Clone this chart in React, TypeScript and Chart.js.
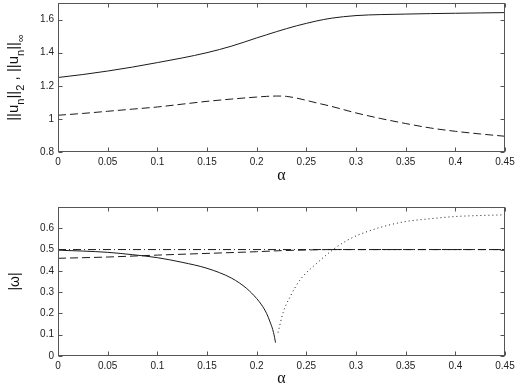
import { useEffect, useRef } from 'react';
import { Chart, registerables } from 'chart.js';

Chart.register(...registerables);
Chart.defaults.font.family = "'Liberation Sans', Arial, sans-serif";

// ---------- data ----------
const xTickValues = [0, 0.05, 0.1, 0.15, 0.2, 0.25, 0.3, 0.35, 0.4, 0.45];
const yTopTickValues = [0.8, 1, 1.2, 1.4, 1.6];
const yBottomTickValues = [0, 0.1, 0.2, 0.3, 0.4, 0.5, 0.6];

// top panel: norms
const alphaNorm = [0, 0.025, 0.05, 0.075, 0.1, 0.125, 0.15, 0.175, 0.2, 0.21, 0.22, 0.23, 0.24, 0.25, 0.26, 0.275, 0.3, 0.325, 0.35, 0.375, 0.4, 0.425, 0.45];
const normSolid = [1.25, 1.268, 1.289, 1.313, 1.34, 1.368, 1.4, 1.44, 1.489, 1.508, 1.527, 1.545, 1.562, 1.577, 1.591, 1.608, 1.624, 1.63, 1.633, 1.636, 1.638, 1.64, 1.642];
const normDashed = [1.022, 1.033, 1.046, 1.059, 1.072, 1.089, 1.106, 1.12, 1.132, 1.136, 1.138, 1.136, 1.126, 1.112, 1.097, 1.076, 1.036, 1.002, 0.972, 0.945, 0.925, 0.909, 0.895];

// bottom panel: |omega|
const alphaOmegaSolid = [0, 0.025, 0.05, 0.075, 0.1, 0.125, 0.15, 0.175, 0.19, 0.2, 0.205, 0.21, 0.2135, 0.217, 0.219];
const omegaSolid = [0.497, 0.493, 0.487, 0.476, 0.462, 0.44, 0.412, 0.365, 0.317, 0.27, 0.24, 0.2, 0.16, 0.11, 0.063];

const alphaOmegaDashed = [0, 0.05, 0.1, 0.15, 0.2, 0.225, 0.25, 0.275, 0.3, 0.35, 0.4, 0.45];
const omegaDashed = [0.459, 0.465, 0.474, 0.482, 0.49, 0.495, 0.498, 0.5, 0.5, 0.5, 0.5, 0.5];

const alphaOmegaDashDot = [0, 0.45];
const omegaDashDot = [0.5, 0.5];

const alphaOmegaDotted = [0.2215, 0.2268, 0.2336, 0.2436, 0.2604, 0.277, 0.2906, 0.302, 0.325, 0.349, 0.375, 0.399, 0.425, 0.45];
const omegaDotted = [0.11, 0.207, 0.278, 0.357, 0.435, 0.5, 0.542, 0.568, 0.605, 0.631, 0.645, 0.655, 0.66, 0.663];

// ---------- styling ----------
const AXIS = '#555';
const LINE = '#1a1a1a';
const TICK_FONT = { size: 10, family: "'Liberation Sans', Arial, sans-serif" };
const TITLE_FONT = { size: 16, family: "'Liberation Serif', 'Times New Roman', serif" };

type Seg = { t: string; sub?: boolean };

const pts = (xs: number[], ys: number[]) => xs.map((x, i) => ({ x, y: ys[i] }));

const framePlugin = {
  id: 'frame',
  afterDatasetsDraw(chart: any) {
    const { ctx, chartArea: a, scales } = chart;
    const l = Math.round(a.left) + 0.5;
    const r = Math.round(a.right) - 0.5;
    const t = Math.round(a.top) + 0.5;
    const b = Math.round(a.bottom) - 0.5;
    ctx.save();
    ctx.strokeStyle = AXIS;
    ctx.lineWidth = 1;
    ctx.strokeRect(l, t, r - l, b - t);
    ctx.beginPath();
    for (const tk of scales.x.ticks) {
      const px = Math.round(scales.x.getPixelForValue(tk.value)) + 0.5;
      ctx.moveTo(px, b); ctx.lineTo(px, b - 4);
      ctx.moveTo(px, t); ctx.lineTo(px, t + 4);
    }
    for (const tk of scales.y.ticks) {
      const py = Math.round(scales.y.getPixelForValue(tk.value)) + 0.5;
      ctx.moveTo(l, py); ctx.lineTo(l + 4, py);
      ctx.moveTo(r, py); ctx.lineTo(r - 4, py);
    }
    ctx.stroke();
    ctx.restore();
  },
};

function labelPlugin(segs: Seg[], baselineX: number, mainSize: number, subSize: number, subShift: number) {
  return {
    id: 'ylabel',
    afterDraw(chart: any) {
      const { ctx, chartArea: a } = chart;
      const main = `${mainSize}px 'Liberation Sans', Arial, sans-serif`;
      const sub = `${subSize}px 'Liberation Sans', Arial, sans-serif`;
      ctx.save();
      let total = 0;
      for (const s of segs) {
        ctx.font = s.sub ? sub : main;
        total += ctx.measureText(s.t).width;
      }
      const cy = (a.top + a.bottom) / 2;
      ctx.translate(baselineX, cy);
      ctx.rotate(-Math.PI / 2);
      ctx.fillStyle = '#111';
      ctx.textAlign = 'left';
      ctx.textBaseline = 'alphabetic';
      let x = -total / 2;
      for (const s of segs) {
        ctx.font = s.sub ? sub : main;
        ctx.fillText(s.t, x, s.sub ? subShift : 0);
        x += ctx.measureText(s.t).width;
      }
      ctx.restore();
    },
  };
}

function makeOptions(ymin: number, ymax: number, yTicks: number[], padTop: number, xAxisHeight: number, titlePadBottom: number) {
  return {
    animation: false,
    responsive: false,
    maintainAspectRatio: false,
    layout: { padding: { top: padTop, left: 0, right: 13, bottom: 0 } },
    plugins: { legend: { display: false }, tooltip: { enabled: false } },
    elements: { point: { radius: 0 }, line: { borderWidth: 1 } },
    scales: {
      x: {
        type: 'linear',
        min: 0,
        max: 0.45,
        grid: { display: false, drawTicks: false },
        border: { display: false },
        ticks: {
          padding: 4,
          color: '#222',
          font: TICK_FONT,
          maxRotation: 0,
          autoSkip: false,
          callback: (v: number) => String(+Number(v).toFixed(2)),
        },
        afterBuildTicks: (s: any) => { s.ticks = xTickValues.map((v) => ({ value: v })); },
        title: { display: true, text: 'α', color: '#111', font: TITLE_FONT, padding: { top: 0, bottom: titlePadBottom } },
        afterFit: (s: any) => { s.height = xAxisHeight; s.paddingLeft = 0; s.paddingRight = 0; },
      },
      y: {
        type: 'linear',
        min: ymin,
        max: ymax,
        grid: { display: false, drawTicks: false },
        border: { display: false },
        ticks: {
          padding: 4,
          color: '#222',
          font: TICK_FONT,
          callback: (v: number) => String(+Number(v).toFixed(2)),
        },
        afterBuildTicks: (s: any) => { s.ticks = yTicks.map((v) => ({ value: v })); },
        afterFit: (s: any) => { s.width = 58; s.paddingTop = 0; s.paddingBottom = 0; },
      },
    },
  };
}

const lineDs = (data: any[], dash: number[]) => ({
  data,
  borderColor: LINE,
  borderWidth: 1,
  borderDash: dash,
  pointRadius: 0,
  fill: false,
  cubicInterpolationMode: 'monotone',
});

export default function App() {
  const topRef = useRef<HTMLCanvasElement>(null);
  const botRef = useRef<HTMLCanvasElement>(null);

  useEffect(() => {
    const c1 = new Chart(topRef.current as HTMLCanvasElement, {
      type: 'line',
      data: {
        datasets: [
          lineDs(pts(alphaNorm, normSolid), []),
          lineDs(pts(alphaNorm, normDashed), [8, 4]),
        ],
      },
      options: makeOptions(0.8, 1.7, yTopTickValues, 3, 38, 5) as any,
      plugins: [
        framePlugin,
        labelPlugin(
          [
            { t: '||u' }, { t: 'n', sub: true }, { t: '||' }, { t: '2', sub: true },
            { t: ' , ||u' }, { t: 'n', sub: true }, { t: '||' }, { t: '∞', sub: true },
          ],
          18, 15, 11, 6
        ),
      ],
    } as any);

    const c2 = new Chart(botRef.current as HTMLCanvasElement, {
      type: 'line',
      data: {
        datasets: [
          lineDs(pts(alphaOmegaDashDot, omegaDashDot), [8, 3, 1, 3]),
          lineDs(pts(alphaOmegaDashed, omegaDashed), [8, 4]),
          lineDs(pts(alphaOmegaSolid, omegaSolid), []),
          lineDs(pts(alphaOmegaDotted, omegaDotted), [1, 3]),
        ],
      },
      options: makeOptions(0, 0.7, yBottomTickValues, 17, 32, 0) as any,
      plugins: [framePlugin, labelPlugin([{ t: '|ω|' }], 19, 14, 10, 5)],
    } as any);

    return () => {
      c1.destroy();
      c2.destroy();
    };
  }, []);

  return (
    <div style={{ position: 'fixed', left: 0, top: 0, width: 518, height: 388, background: '#fff' }}>
      <canvas ref={topRef} width={518} height={190} style={{ position: 'absolute', left: 0, top: 0, display: 'block' }} />
      <canvas ref={botRef} width={518} height={198} style={{ position: 'absolute', left: 0, top: 190, display: 'block' }} />
    </div>
  );
}
